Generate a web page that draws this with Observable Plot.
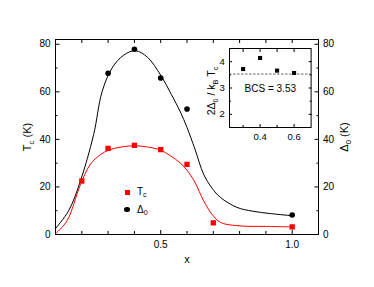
<!DOCTYPE html>
<html><head><meta charset="utf-8">
<script src="https://cdn.jsdelivr.net/npm/d3@7"></script>
<script src="https://cdn.jsdelivr.net/npm/@observablehq/plot@0.6"></script>
<style>
body{margin:0;background:#fff;}
#wrap{position:relative;width:374px;height:287px;font-family:"Liberation Sans",Arial,Helvetica,sans-serif;color:#000;}
#wrap svg{position:absolute;}
.leg{position:absolute;font-size:10px;line-height:12px;white-space:nowrap;}
.leg .m{position:absolute;}
.leg sub{font-size:7px;vertical-align:-2px;line-height:0;}
</style></head><body><div id="wrap"></div>
<script>
// measured points
const tcX = [0.2, 0.3, 0.4, 0.5, 0.6, 0.7, 1.0];
const tcY = [22.5, 36.2, 37.5, 35.7, 29.5, 4.9, 3.2];
const gapX = [0.3, 0.4, 0.5, 0.6, 1.0];
const gapY = [67.8, 77.9, 65.8, 52.8, 8.2];
// fitted curves
const fitTcX = [0.1, 0.144, 0.195, 0.233, 0.27, 0.303, 0.35, 0.404, 0.45, 0.499, 0.537, 0.575, 0.6, 0.63, 0.663, 0.695, 0.727, 0.79, 0.9, 1.0];
const fitTcY = [0.3, 5.8, 21.0, 29.6, 33.5, 35.5, 36.8, 37.3, 36.8, 35.5, 33.1, 30.0, 27.0, 22.0, 14.2, 8.5, 5.1, 3.7, 3.4, 3.2];
const fitGapX = [0.1, 0.15, 0.195, 0.245, 0.277, 0.315, 0.36, 0.404, 0.45, 0.5, 0.54, 0.575, 0.6, 0.63, 0.663, 0.695, 0.727, 0.79, 0.85, 0.917, 1.0];
const fitGapY = [2.5, 10.0, 22.6, 42.0, 60.0, 70.0, 75.5, 77.3, 74.5, 67.0, 59.0, 51.5, 45.0, 36.0, 25.4, 19.5, 15.6, 11.4, 9.8, 8.8, 7.9];
// inset
const ratioX = [0.3, 0.4, 0.5, 0.6];
const ratioY = [3.72, 4.14, 3.66, 3.57];
const bcs = 3.53;
// ticks
const xMajor = [0.5, 1.0];
const xMinor = [0.2, 0.3, 0.4, 0.6, 0.7, 0.8, 0.9];
const yMajor = [0, 20, 40, 60, 80];
const yMinor = [10, 30, 50, 70];
const insetXMajor = [0.4, 0.6];
const insetXMinor = [0.3, 0.5];
const insetYMajor = [2, 3, 4];
const insetYMinor = [2.5, 3.5];
// labels
const yLabelLeft = "Tc (K)";
const yLabelRight = "Δ0 (K)";
const xLabel = "x";
const insetYLabel = "2Δ0 / kB Tc";
const bcsLabel = `BCS = ${bcs}`;

const zip = (xs, ys) => xs.map((x, i) => ({x, y: ys[i]}));
const tc = zip(tcX, tcY), gap = zip(gapX, gapY);
const fitTc = zip(fitTcX, fitTcY), fitGap = zip(fitGapX, fitGapY);
const ratio = zip(ratioX, ratioY);
const fmt1 = d3.format(".1f");
const font = "'Liberation Sans', Arial, Helvetica, sans-serif";

const main = Plot.plot({
  width: 374, height: 287,
  marginLeft: 55, marginRight: 56, marginTop: 39, marginBottom: 53,
  style: {fontFamily: font, fontSize: "10px", color: "#000", background: "transparent", overflow: "visible"},
  x: {domain: [0.1, 1.1]},
  y: {domain: [0, 82]},
  marks: [
    Plot.frame({stroke: "#000", strokeWidth: 1}),
    Plot.axisX(xMajor, {anchor: "bottom", tickSize: -4, tickPadding: 10, tickFormat: fmt1, label: null}),
    Plot.axisX(xMinor, {anchor: "bottom", tickSize: -3, fill: "none"}),
    Plot.axisX([...xMinor, ...xMajor], {anchor: "top", tickSize: -3, fill: "none"}),
    Plot.axisY(yMajor, {anchor: "left", tickSize: -4.5, tickPadding: 9.5, label: null}),
    Plot.axisY(yMinor, {anchor: "left", tickSize: -2.5, fill: "none"}),
    Plot.axisY(yMajor, {anchor: "right", tickSize: -4.5, tickPadding: 9, label: null}),
    Plot.axisY(yMinor, {anchor: "right", tickSize: -2.5, fill: "none"}),
    Plot.line(fitGap, {x: "x", y: "y", stroke: "#000", strokeWidth: 1, curve: "catmull-rom"}),
    Plot.line(fitTc, {x: "x", y: "y", stroke: "#ff0000", strokeWidth: 1, curve: "catmull-rom"}),
    Plot.dot(tc, {x: "x", y: "y", symbol: "square", r: 3, fill: "#ff0000", stroke: "none"}),
    Plot.dot(gap, {x: "x", y: "y", r: 2.8, fill: "#000", stroke: "none"}),
    Plot.text([yLabelLeft], {text: d => d, frameAnchor: "left", textAnchor: "middle", dx: -28, rotate: -90, fontSize: 11}),
    Plot.text([yLabelRight], {text: d => d, frameAnchor: "right", textAnchor: "middle", dx: 26, rotate: -90, fontSize: 11}),
    Plot.text([xLabel], {text: d => d, frameAnchor: "bottom", textAnchor: "middle", dy: 28, fontSize: 11})
  ]
});

const inset = Plot.plot({
  width: 146, height: 103,
  marginLeft: 60, marginRight: 4.4, marginTop: 2, marginBottom: 22,
  style: {fontFamily: font, fontSize: "9.5px", color: "#000", background: "transparent", overflow: "visible"},
  x: {domain: [0.22, 0.70]},
  y: {domain: [1.5, 4.5]},
  marks: [
    Plot.frame({stroke: "#000", strokeWidth: 1}),
    Plot.ruleY([bcs], {stroke: "#666", strokeWidth: 1, strokeDasharray: "2.5,1.5"}),
    Plot.axisX(insetXMajor, {anchor: "bottom", tickSize: -3, tickPadding: 9, tickFormat: fmt1, label: null}),
    Plot.axisX(insetXMinor, {anchor: "bottom", tickSize: -2, fill: "none"}),
    Plot.axisX([...insetXMinor, ...insetXMajor], {anchor: "top", tickSize: -3, fill: "none"}),
    Plot.axisY(insetYMajor, {anchor: "left", tickSize: -3, tickPadding: 7.7, label: null}),
    Plot.axisY(insetYMinor, {anchor: "left", tickSize: -2, fill: "none"}),
    Plot.axisY(insetYMajor, {anchor: "right", tickSize: -3, fill: "none"}),
    Plot.axisY(insetYMinor, {anchor: "right", tickSize: -2, fill: "none"}),
    Plot.dot(ratio, {x: "x", y: "y", symbol: "square", r: 2.3, fill: "#000", stroke: "none"}),
    Plot.text([bcsLabel], {text: d => d, frameAnchor: "top", textAnchor: "middle", dy: 36, fontSize: 10}),
    Plot.text([insetYLabel], {text: d => d, frameAnchor: "left", textAnchor: "middle", dx: -18, dy: 3, rotate: -90, fontSize: 10.5})
  ]
});

function subify(svg, plain, parts) {
  d3.select(svg).selectAll("text").filter(function() { return this.textContent === plain; }).each(function() {
    const t = d3.select(this);
    t.text(null);
    let shifted = false;
    parts.forEach(([s, sub]) => {
      const ts = t.append("tspan").text(s);
      if (sub) { ts.attr("dy", 3).attr("font-size", "70%"); shifted = true; }
      else if (shifted) { ts.attr("dy", -3); shifted = false; }
    });
  });
}
subify(main, yLabelLeft, [["T"], ["c", true], [" (K)"]]);
subify(main, yLabelRight, [["Δ"], ["0", true], [" (K)"]]);
subify(inset, insetYLabel, [["2Δ"], ["0", true], [" / k"], ["B", true], [" T"], ["c", true]]);

const wrap = document.getElementById("wrap");
main.style.left = "0px"; main.style.top = "0px";
inset.style.left = "168.7px"; inset.style.top = "45.7px";
wrap.appendChild(main);
wrap.appendChild(inset);

// legend
const leg = document.createElement("div");
leg.className = "leg";
leg.style.left = "124px"; leg.style.top = "186px";
leg.innerHTML =
  '<div class="m" style="left:0.5px;top:3.5px;width:5.5px;height:5.5px;background:#ff0000"></div>' +
  '<div style="position:absolute;left:13px;top:0px">T<sub>c</sub></div>' +
  '<div class="m" style="left:0.3px;top:20.8px;width:5.6px;height:5.6px;border-radius:50%;background:#000"></div>' +
  '<div style="position:absolute;left:13px;top:17.5px">Δ<sub>0</sub></div>';
wrap.appendChild(leg);
</script>
</body></html>
